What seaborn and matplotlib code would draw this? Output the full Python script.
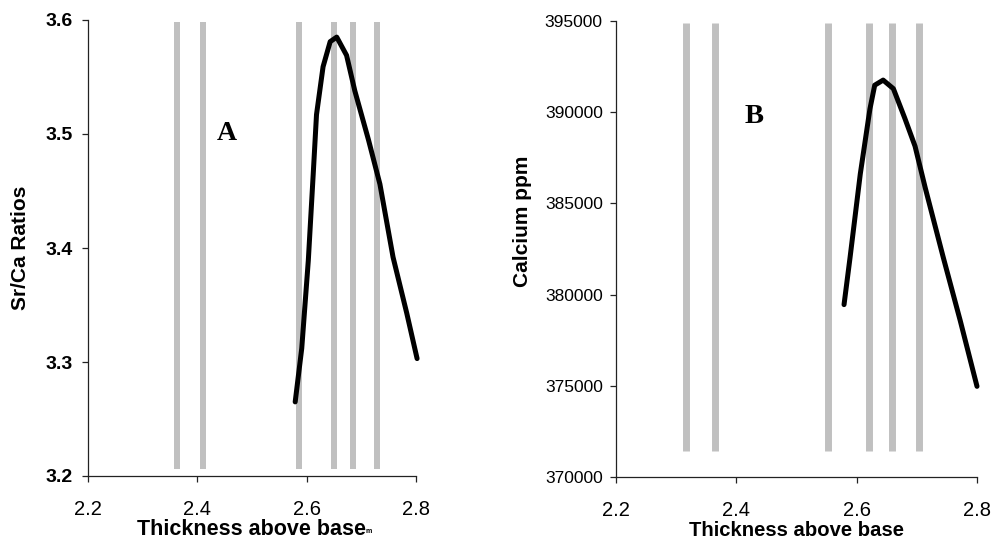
import matplotlib
matplotlib.use("Agg")
import matplotlib.pyplot as plt
import seaborn as sns
import pandas as pd

# ---- data ----
# Panel A: Sr/Ca ratios
a_x = [2.579, 2.591, 2.603, 2.612, 2.618, 2.630, 2.643, 2.655, 2.673, 2.688, 2.713, 2.734, 2.758, 2.783, 2.802]
a_y = [3.265, 3.312, 3.389, 3.465, 3.517, 3.559, 3.581, 3.585, 3.569, 3.538, 3.495, 3.456, 3.392, 3.343, 3.303]
a_bands = [2.363, 2.410, 2.586, 2.650, 2.685, 2.729]
a_band_range = [3.206, 3.598]

# Panel B: Calcium ppm
b_x = [2.579, 2.589, 2.606, 2.622, 2.630, 2.644, 2.661, 2.680, 2.697, 2.714, 2.744, 2.772, 2.800]
b_y = [379450, 382030, 386610, 390170, 391480, 391760, 391290, 389670, 388140, 385850, 382030, 378590, 374970]
b_bands = [2.316, 2.364, 2.552, 2.620, 2.659, 2.704]
b_band_range = [371450, 394900]

x_ticks = [2.2, 2.4, 2.6, 2.8]
a_yticks = [3.2, 3.3, 3.4, 3.5, 3.6]
b_yticks = [370000, 375000, 380000, 385000, 390000, 395000]

sns.set_theme(style="ticks")
plt.rcParams['font.family'] = ['Liberation Sans', 'DejaVu Sans']
plt.rcParams.update({"text.color": "black", "axes.labelcolor": "black",
                     "xtick.labelcolor": "black", "ytick.labelcolor": "black"})

W, H = 992, 545
fig = plt.figure(figsize=(W / 100, H / 100), dpi=100)
axA = fig.add_axes([88 / W, 1 - 476 / H, (416 - 88) / W, (476 - 20) / H])
axB = fig.add_axes([616 / W, 1 - 477 / H, (977 - 616) / W, (477 - 21) / H])

band_color = "#C0C0C0"


def style(ax, ypad):
    for s in ["top", "right"]:
        ax.spines[s].set_visible(False)
    for s in ["left", "bottom"]:
        ax.spines[s].set_color("#222222")
        ax.spines[s].set_linewidth(0.9)
    ax.tick_params(axis="both", direction="out", length=4.5, width=0.9,
                   color="#222222", labelcolor="black")
    ax.tick_params(axis="x", pad=12.5)
    ax.tick_params(axis="y", pad=ypad)
    ax.set_xlim(2.2, 2.8)
    ax.set_xticks(x_ticks)
    ax.set_xticklabels([f"{t:.1f}" for t in x_ticks], fontsize=14.5)
    ax.grid(False)


# Panel A
axA.vlines(a_bands, a_band_range[0], a_band_range[1], colors=band_color, linewidth=4.3, zorder=1)
dfA = pd.DataFrame({"x": a_x, "y": a_y})
sns.lineplot(data=dfA, x="x", y="y", ax=axA, color="black", linewidth=3.6,
             sort=False, estimator=None, zorder=2)
lnA = axA.lines[-1]
lnA.set_solid_capstyle("round")
lnA.set_solid_joinstyle("round")
lnA.set_clip_on(False)
axA.set_ylim(3.2, 3.6)
axA.set_yticks(a_yticks)
axA.set_yticklabels([f"{t:.1f}" for t in a_yticks], fontsize=14, fontweight="bold")
style(axA, ypad=6.5)
axA.set_xlabel("Thickness above base", fontsize=15.5, fontweight="bold", va="baseline", color="black")
axA.xaxis.set_label_coords(0.5, (476 - 535) / 456)
axA.set_ylabel("Sr/Ca Ratios", fontsize=15, fontweight="bold", va="center", color="black")
axA.yaxis.set_label_coords((20 - 88) / 328, 0.5)
axA.text(2.454, 3.500, "A", fontsize=20, fontweight="bold", family="Liberation Serif",
         ha="center", va="center", color="black")
fig.text(365 / W, 1 - 533 / H, "m", fontsize=5, fontweight="bold", ha="left", va="baseline",
         color="black")

# Panel B
axB.vlines(b_bands, b_band_range[0], b_band_range[1], colors=band_color, linewidth=5, zorder=1)
dfB = pd.DataFrame({"x": b_x, "y": b_y})
sns.lineplot(data=dfB, x="x", y="y", ax=axB, color="black", linewidth=3.6,
             sort=False, estimator=None, zorder=2)
lnB = axB.lines[-1]
lnB.set_solid_capstyle("round")
lnB.set_solid_joinstyle("round")
lnB.set_clip_on(False)
axB.set_ylim(370000, 395000)
axB.set_yticks(b_yticks)
axB.set_yticklabels([str(t) for t in b_yticks], fontsize=12.5)
style(axB, ypad=5)
axB.set_xlabel("Thickness above base", fontsize=14.6, fontweight="bold", va="baseline", color="black")
axB.xaxis.set_label_coords(0.5, (477 - 536) / 456)
axB.set_ylabel("Calcium ppm", fontsize=15, fontweight="bold", va="center", color="black")
axB.yaxis.set_label_coords((522 - 616) / 361, 0.56)
axB.text(2.429, 389775, "B", fontsize=20.5, fontweight="bold", family="Liberation Serif",
         ha="center", va="center", color="black")

fig.savefig("out.png", dpi=100)
